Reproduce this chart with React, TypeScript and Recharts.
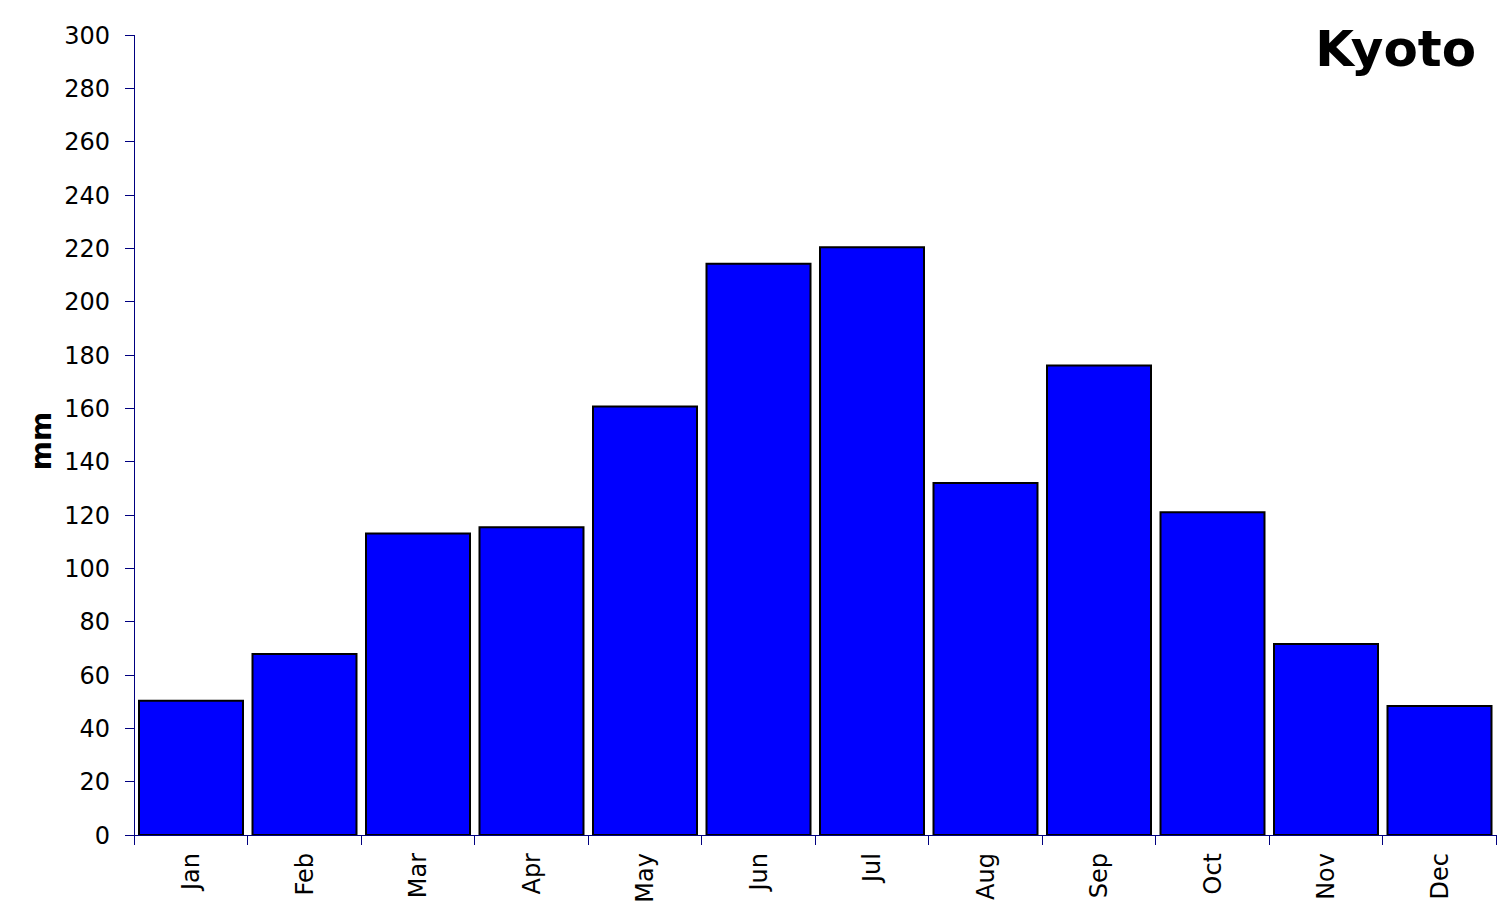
import { Bar, BarChart, XAxis, YAxis } from "recharts";

const MONTHS = ["Jan", "Feb", "Mar", "Apr", "May", "Jun", "Jul", "Aug", "Sep", "Oct", "Nov", "Dec"];
const RAINFALL_MM = [50.3, 67.9, 113.1, 115.4, 160.7, 214.2, 220.4, 132.0, 176.1, 121.0, 71.6, 48.4];
const Y_TICKS = [0, 20, 40, 60, 80, 100, 120, 140, 160, 180, 200, 220, 240, 260, 280, 300];

const W = 1512;
const H = 922;
const LEFT = 134;
const RIGHT = 16;
const TOP = 35;
const X_AXIS_H = 87;
const BAND = (W - LEFT - RIGHT) / MONTHS.length;

const AXIS = "#000080";
const FONT = "DejaVu Sans, Verdana, sans-serif";

const chartData = MONTHS.map((m, i) => ({ month: m, mm: RAINFALL_MM[i] }));

function MonthTick(props: any) {
  const { x, y, payload, index } = props;
  const last = index === MONTHS.length - 1;
  return (
    <g transform={`translate(${x},${y})`}>
      <line x1={-BAND / 2} y1={0} x2={-BAND / 2} y2={10} stroke={AXIS} strokeWidth={1} shapeRendering="crispEdges" />
      {last && (
        <line x1={BAND / 2} y1={0} x2={BAND / 2} y2={10} stroke={AXIS} strokeWidth={1} shapeRendering="crispEdges" />
      )}
      <text
        transform="rotate(-90)"
        x={-18}
        y={0}
        dy="0.36em"
        textAnchor="end"
        fill="#000"
        fontSize={24}
        fontFamily={FONT}
      >
        {payload.value}
      </text>
    </g>
  );
}

export default function App() {
  return (
    <div style={{ position: "absolute", left: 0, top: 0, width: W, height: H, background: "#fff" }}>
      <BarChart
        width={W}
        height={H}
        data={chartData}
        margin={{ top: TOP, right: RIGHT, left: 0, bottom: 0 }}
        barCategoryGap={5}
      >
        <XAxis
          dataKey="month"
          interval={0}
          height={X_AXIS_H}
          tickSize={0}
          tickMargin={0}
          tickLine={false}
          axisLine={{ stroke: AXIS, strokeWidth: 1, shapeRendering: "crispEdges" }}
          tick={<MonthTick />}
        />
        <YAxis
          width={LEFT}
          domain={[0, 300]}
          ticks={Y_TICKS}
          interval={0}
          tickSize={9}
          tickMargin={15}
          axisLine={{ stroke: AXIS, strokeWidth: 1, shapeRendering: "crispEdges" }}
          tickLine={{ stroke: AXIS, strokeWidth: 1, shapeRendering: "crispEdges" }}
          tick={{ fill: "#000", fontSize: 24, fontFamily: FONT }}
        />
        <Bar dataKey="mm" fill="#0000FF" stroke="#000" strokeWidth={2} isAnimationActive={false} />
      </BarChart>
      <svg
        width={W}
        height={H}
        style={{ position: "absolute", left: 0, top: 0, pointerEvents: "none" }}
      >
        <text x={1476} y={66} textAnchor="end" fontSize={50} fontWeight="bold" fontFamily={FONT} fill="#000">
          Kyoto
        </text>
        <text
          transform="translate(51,441) rotate(-90)"
          textAnchor="middle"
          fontSize={28}
          fontWeight="bold"
          fontFamily={FONT}
          fill="#000"
        >
          mm
        </text>
      </svg>
    </div>
  );
}
